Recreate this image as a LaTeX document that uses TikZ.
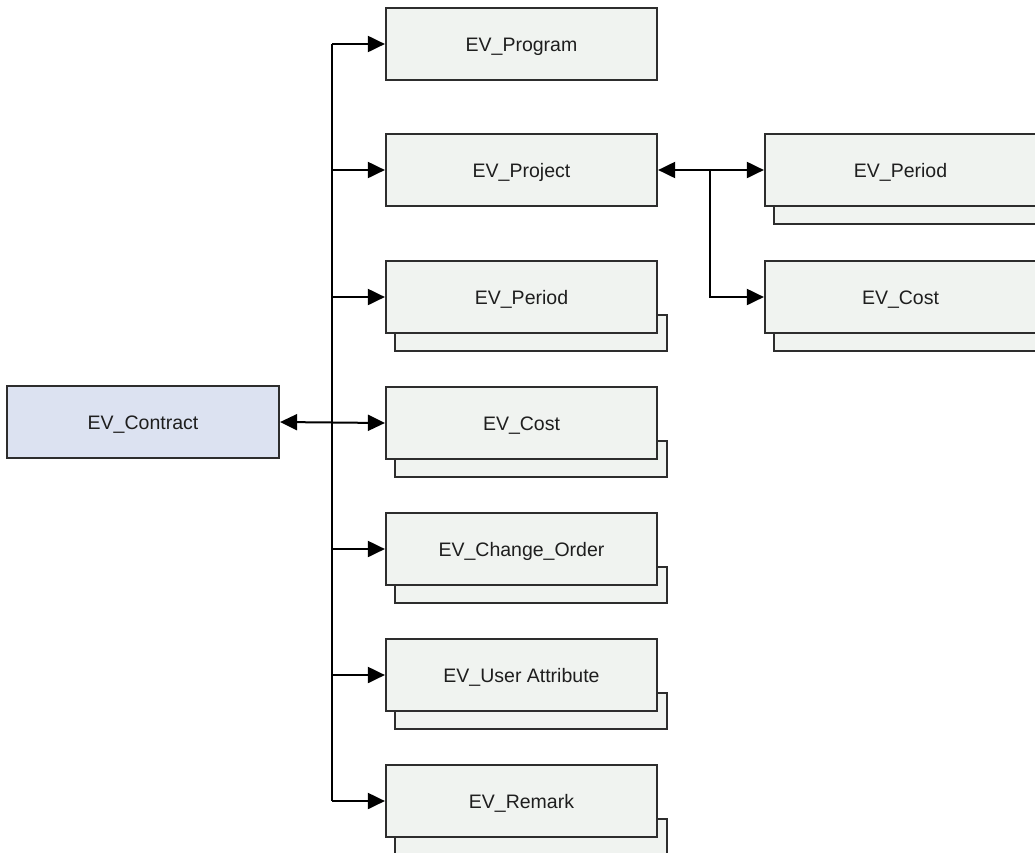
\documentclass[tikz,border=0pt]{standalone}
\usepackage{fontspec}
\setmainfont{Liberation Sans}
\usetikzlibrary{arrows.meta,backgrounds}
\definecolor{boxfill}{RGB}{240,243,240}
\definecolor{rootfill}{RGB}{220,226,241}
\definecolor{edge}{RGB}{45,45,45}
\definecolor{ink}{RGB}{30,30,30}
\tikzset{
  entity/.style={draw=edge, line width=2.2pt, fill=boxfill, minimum width=271pt,
    minimum height=72pt, inner sep=0pt, text=ink, text height=14pt, text depth=0pt,
    font=\fontsize{19.5}{22}\selectfont},
  rootentity/.style={entity, fill=rootfill, minimum width=272pt},
  shadowbox/.style={draw=edge, line width=2.2pt, fill=boxfill},
  link/.style={draw=black, line width=2pt},
  tip/.style={-{Triangle[length=17pt,width=16pt]}},
  bitip/.style={{Triangle[length=17pt,width=16pt]}-{Triangle[length=17pt,width=16pt]}},
}
\newcommand{\stackshadow}[1]{%
  \draw[shadowbox] ([xshift=10pt,yshift=19pt]#1.south west) rectangle ([xshift=9pt,yshift=-17pt]#1.south east);}
\begin{document}
\begin{tikzpicture}[x=1pt,y=-1pt]
  \useasboundingbox (0,0) rectangle (1035,852);
  % root entity
  \node[rootentity] (contract) at (143,422) {EV\_Contract};
  % first level
  \node[entity] (program) at (521.5,44)  {EV\_Program};
  \node[entity] (project) at (521.5,170) {EV\_Project};
  \node[entity] (period)  at (521.5,297) {EV\_Period};
  \node[entity] (cost)    at (521.5,423) {EV\_Cost};
  \node[entity] (change)  at (521.5,549) {EV\_Change\_Order};
  \node[entity] (userattr) at (521.5,675) {EV\_User Attribute};
  \node[entity] (remark)  at (521.5,801) {EV\_Remark};
  % second level under the project
  \node[entity] (pperiod) at (900.5,170) {EV\_Period};
  \node[entity] (pcost)   at (900.5,297) {EV\_Cost};
  % stacked back sheets for repeating entities
  \begin{scope}[on background layer]
    \stackshadow{period}
    \stackshadow{cost}
    \stackshadow{change}
    \stackshadow{userattr}
    \stackshadow{remark}
    \stackshadow{pperiod}
    \stackshadow{pcost}
  \end{scope}
  % trunk and branches
  \coordinate (trunk) at (332,0);
  \coordinate (fork) at (710,0);
  \draw[link] (trunk|-program.west) -- (trunk|-remark.west);
  \draw[link,bitip] (contract.east) -- (cost.west);
  \foreach \n in {program,project,period,change,userattr,remark}
    \draw[link,tip] (trunk|-\n.west) -- (\n.west);
  \draw[link,bitip] (project.east) -- (pperiod.west);
  \draw[link,tip] (fork|-project.east) |- (pcost.west);
\end{tikzpicture}
\end{document}
